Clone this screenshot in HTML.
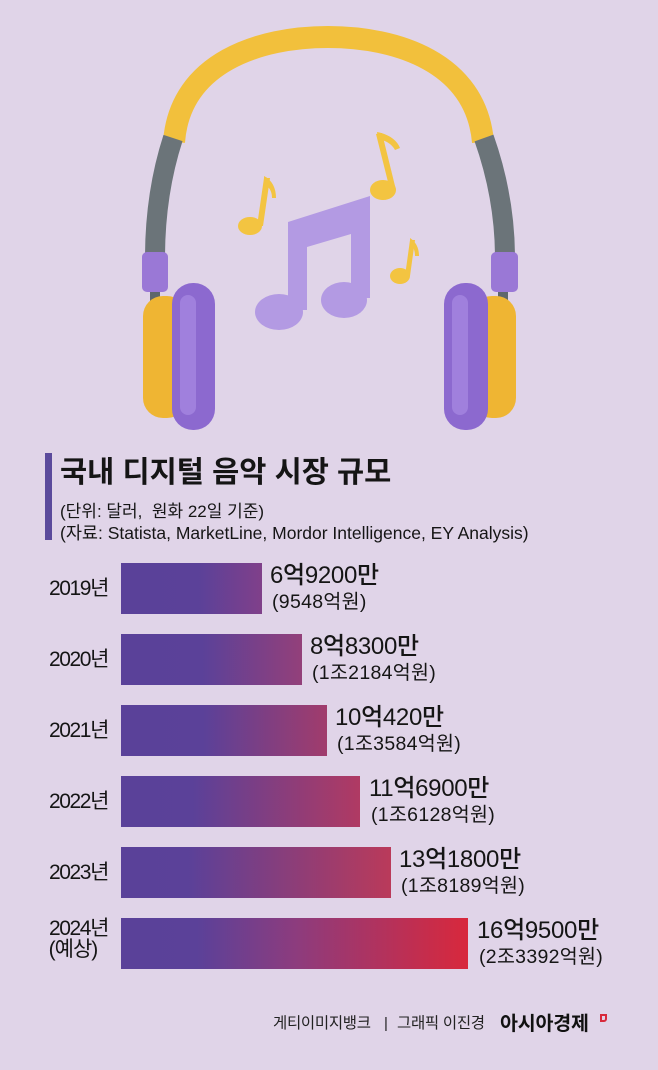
<!DOCTYPE html>
<html><head><meta charset="utf-8">
<style>
*{margin:0;padding:0;box-sizing:border-box}
html,body{width:658px;height:1070px;overflow:hidden;background:#e0d4e8}
body{position:relative;font-family:"Liberation Sans","Noto Sans CJK KR",sans-serif;color:#151515}
.a{position:absolute;white-space:nowrap}
.bar{position:absolute;left:121px;height:51px}
.yr{position:absolute;left:40px;width:68px;text-align:right;font-size:21px;letter-spacing:-1.4px;line-height:24px}
.v1{position:absolute;font-size:24px;letter-spacing:-0.3px;line-height:26px;font-weight:500}
.v2{position:absolute;font-size:19.5px;letter-spacing:0.3px;line-height:22px}
</style></head>
<body>
<svg class="a" style="left:0;top:0" width="658" height="440" viewBox="0 0 658 440">
  <!-- headband -->
  <path d="M174,142 C180,62 260,37 328,37 C396,37 476,62 483,142" fill="none" stroke="#f2c03c" stroke-width="22" stroke-linecap="butt"/>
  <!-- gray arms -->
  <path d="M173,138 C162,172 155,212 155,258" fill="none" stroke="#6b7479" stroke-width="20"/>
  <path d="M484,138 C496,172 505,212 505,258" fill="none" stroke="#6b7479" stroke-width="20"/>
  <rect x="150" y="288" width="10" height="30" fill="#5f676c"/>
  <rect x="498" y="288" width="10" height="30" fill="#5f676c"/>
  <!-- connectors -->
  <rect x="142" y="252" width="26" height="40" rx="5" fill="#9a78d6"/>
  <rect x="491" y="252" width="27" height="40" rx="5" fill="#9a78d6"/>
  <!-- left cup -->
  <rect x="143" y="296" width="44" height="122" rx="20" fill="#efb533"/>
  <rect x="172" y="283" width="43" height="147" rx="21" fill="#8c69cf"/>
  <rect x="180" y="295" width="16" height="120" rx="8" fill="#a88ae2" opacity="0.7"/>
  <!-- right cup -->
  <rect x="472" y="296" width="44" height="122" rx="20" fill="#efb533"/>
  <rect x="444" y="283" width="44" height="147" rx="21" fill="#8c69cf"/>
  <rect x="452" y="295" width="16" height="120" rx="8" fill="#a88ae2" opacity="0.7"/>
  <!-- main note -->
  <g fill="#b39ae3">
    <path d="M288,222 L370,196 L370,298 L351,298 L351,234 L307,247 L307,310 L288,310 Z"/>
    <ellipse cx="279" cy="312" rx="24" ry="18"/>
    <ellipse cx="344" cy="300" rx="23" ry="18"/>
  </g>
  <!-- yellow notes -->
  <g fill="#f3c441">
    <ellipse cx="250" cy="226" rx="12" ry="9"/>
    <path d="M257,226 L264,178 L270,178 L263,226 Z"/>
    <path d="M264,176 C272,180 276,188 276,198 L272,198 C272,190 268,186 264,184 Z"/>
    <ellipse cx="383" cy="190" rx="13" ry="10"/>
    <path d="M390,190 L376,134 L382,133 L396,190 Z"/>
    <path d="M377,132 C388,134 397,140 400,148 L395,150 C392,144 385,140 378,139 Z"/>
    <ellipse cx="400" cy="276" rx="10" ry="8"/>
    <path d="M405,276 L410,240 L415,240 L410,276 Z"/>
    <path d="M410,238 C416,242 419,248 419,256 L415,256 C415,250 413,246 410,244 Z"/>
  </g>
</svg>

<!-- title -->
<div class="a" style="left:45px;top:453px;width:7px;height:87px;background:#5b4a9c"></div>
<div class="a" style="left:60px;top:456px;font-size:29.5px;font-weight:bold;letter-spacing:0px;line-height:34px">국내 디지털 음악 시장 규모</div>
<div class="a" style="left:60px;top:502px;font-size:17px;letter-spacing:0px;line-height:20px">(단위: 달러,&nbsp; 원화 22일 기준)</div>
<div class="a" style="left:60px;top:523px;font-size:17.5px;letter-spacing:0px;line-height:20px">(자료: Statista, MarketLine, Mordor Intelligence, EY Analysis)</div>

<!-- bars -->
<div class="bar" style="top:563px;width:141px;background:linear-gradient(to right,#5a4199 0%,#5b4199 55%,#80408a 100%)"></div>
<div class="bar" style="top:634px;width:181px;background:linear-gradient(to right,#5a4199 0%,#5b4199 45%,#93407a 100%)"></div>
<div class="bar" style="top:705px;width:206px;background:linear-gradient(to right,#5a4199 0%,#5b4199 40%,#a13c6c 100%)"></div>
<div class="bar" style="top:776px;width:239px;background:linear-gradient(to right,#5a4199 0%,#5b4199 30%,#b03a63 100%)"></div>
<div class="bar" style="top:847px;width:270px;background:linear-gradient(to right,#5a4199 0%,#5b4199 25%,#ba3a5a 100%)"></div>
<div class="bar" style="top:918px;width:347px;background:linear-gradient(to right,#5a4199 0%,#5b4199 22%,#8c3c7e 50%,#d8283c 100%)"></div>

<!-- year labels -->
<div class="yr" style="top:577px">2019년</div>
<div class="yr" style="top:648px">2020년</div>
<div class="yr" style="top:719px">2021년</div>
<div class="yr" style="top:790px">2022년</div>
<div class="yr" style="top:861px">2023년</div>
<div class="yr" style="top:917px">2024년</div>
<div class="yr" style="top:938px;left:40px;width:66px;text-align:center;letter-spacing:-1px">(예상)</div>

<!-- value labels -->
<div class="v1" style="left:270px;top:563px">6억9200만</div>
<div class="v2" style="left:272px;top:591px">(9548억원)</div>
<div class="v1" style="left:310px;top:634px">8억8300만</div>
<div class="v2" style="left:312px;top:662px">(1조2184억원)</div>
<div class="v1" style="left:335px;top:705px">10억420만</div>
<div class="v2" style="left:337px;top:733px">(1조3584억원)</div>
<div class="v1" style="left:369px;top:776px">11억6900만</div>
<div class="v2" style="left:371px;top:804px">(1조6128억원)</div>
<div class="v1" style="left:399px;top:847px">13억1800만</div>
<div class="v2" style="left:401px;top:875px">(1조8189억원)</div>
<div class="v1" style="left:477px;top:918px">16억9500만</div>
<div class="v2" style="left:479px;top:946px">(2조3392억원)</div>

<!-- footer -->
<div class="a" style="left:273px;top:1014px;font-size:15.5px;line-height:20px;color:#222;letter-spacing:-0.3px">게티이미지뱅크</div>
<div class="a" style="left:384px;top:1014px;font-size:15px;line-height:20px;color:#222">|</div>
<div class="a" style="left:397px;top:1014px;font-size:15.5px;line-height:20px;color:#222;letter-spacing:-0.3px">그래픽 이진경</div>
<div class="a" style="left:500px;top:1012px;font-size:19.5px;font-weight:bold;line-height:24px;color:#111;letter-spacing:-0.2px">아시아경제</div>
<div class="a" style="left:600px;top:1014px;width:7px;height:8px;border:2px solid #d82a3c;border-radius:0 0 3px 0"></div>
</body></html>
